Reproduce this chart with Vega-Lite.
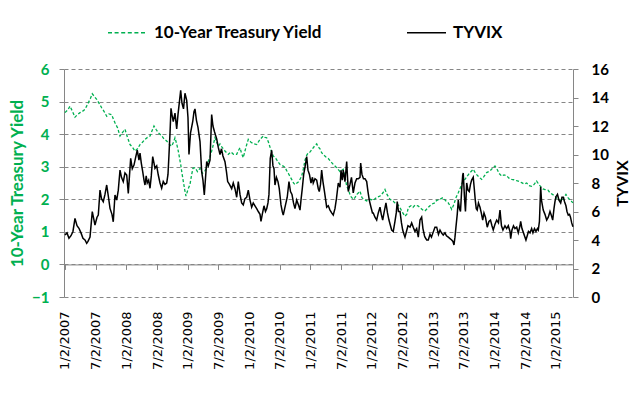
{
"$schema": "https://vega.github.io/schema/vega-lite/v6.json",
"width": 509, "height": 228,
"autosize": "none",
"padding": {"left": 64, "top": 69, "right": 69, "bottom": 104},
"background": "white",
"config": {"view": {"stroke": null}, "axis": {"labelFont": "Lato", "titleFont": "Lato"}},
"datasets": {
"yield": [
{"year":2007.000,"yield":4.66},{"year":2007.049,"yield":4.75},{"year":2007.082,"yield":4.86},{"year":2007.122,"yield":4.70},{"year":2007.163,"yield":4.52},{"year":2007.204,"yield":4.60},{"year":2007.245,"yield":4.66},{"year":2007.285,"yield":4.70},{"year":2007.326,"yield":4.76},{"year":2007.380,"yield":4.96},{"year":2007.416,"yield":5.10},{"year":2007.445,"yield":5.24},{"year":2007.481,"yield":5.15},{"year":2007.517,"yield":5.07},{"year":2007.554,"yield":4.95},{"year":2007.598,"yield":4.81},{"year":2007.636,"yield":4.70},{"year":2007.680,"yield":4.55},{"year":2007.717,"yield":4.62},{"year":2007.761,"yield":4.60},{"year":2007.791,"yield":4.45},{"year":2007.815,"yield":4.35},{"year":2007.856,"yield":4.20},{"year":2007.897,"yield":3.94},{"year":2007.937,"yield":4.05},{"year":2007.978,"yield":4.15},{"year":2008.019,"yield":3.90},{"year":2008.060,"yield":3.68},{"year":2008.100,"yield":3.60},{"year":2008.141,"yield":3.48},{"year":2008.182,"yield":3.55},{"year":2008.223,"yield":3.68},{"year":2008.263,"yield":3.75},{"year":2008.304,"yield":3.84},{"year":2008.345,"yield":3.90},{"year":2008.386,"yield":3.94},{"year":2008.418,"yield":4.10},{"year":2008.451,"yield":4.25},{"year":2008.483,"yield":4.15},{"year":2008.521,"yield":4.04},{"year":2008.576,"yield":3.95},{"year":2008.614,"yield":3.85},{"year":2008.658,"yield":3.79},{"year":2008.695,"yield":3.70},{"year":2008.739,"yield":3.63},{"year":2008.769,"yield":3.75},{"year":2008.793,"yield":3.89},{"year":2008.821,"yield":3.70},{"year":2008.847,"yield":3.48},{"year":2008.886,"yield":3.07},{"year":2008.907,"yield":2.80},{"year":2008.928,"yield":2.56},{"year":2008.951,"yield":2.30},{"year":2008.972,"yield":2.10},{"year":2009.005,"yield":2.30},{"year":2009.038,"yield":2.46},{"year":2009.065,"yield":2.76},{"year":2009.086,"yield":2.95},{"year":2009.119,"yield":2.97},{"year":2009.160,"yield":2.85},{"year":2009.201,"yield":2.95},{"year":2009.241,"yield":2.80},{"year":2009.282,"yield":2.87},{"year":2009.310,"yield":3.00},{"year":2009.336,"yield":3.17},{"year":2009.364,"yield":3.30},{"year":2009.391,"yield":3.48},{"year":2009.421,"yield":3.70},{"year":2009.445,"yield":3.89},{"year":2009.473,"yield":3.75},{"year":2009.499,"yield":3.63},{"year":2009.527,"yield":3.70},{"year":2009.559,"yield":3.60},{"year":2009.608,"yield":3.48},{"year":2009.662,"yield":3.38},{"year":2009.706,"yield":3.45},{"year":2009.747,"yield":3.38},{"year":2009.799,"yield":3.38},{"year":2009.828,"yield":3.50},{"year":2009.853,"yield":3.58},{"year":2009.880,"yield":3.40},{"year":2009.906,"yield":3.28},{"year":2009.950,"yield":3.60},{"year":2009.988,"yield":3.84},{"year":2010.032,"yield":3.75},{"year":2010.081,"yield":3.70},{"year":2010.125,"yield":3.68},{"year":2010.179,"yield":3.84},{"year":2010.232,"yield":3.94},{"year":2010.260,"yield":3.90},{"year":2010.288,"yield":3.89},{"year":2010.317,"yield":3.75},{"year":2010.342,"yield":3.60},{"year":2010.369,"yield":3.45},{"year":2010.395,"yield":3.33},{"year":2010.439,"yield":3.25},{"year":2010.472,"yield":3.15},{"year":2010.505,"yield":3.07},{"year":2010.558,"yield":3.02},{"year":2010.586,"yield":2.98},{"year":2010.614,"yield":2.88},{"year":2010.640,"yield":2.80},{"year":2010.668,"yield":2.70},{"year":2010.695,"yield":2.61},{"year":2010.725,"yield":2.50},{"year":2010.749,"yield":2.45},{"year":2010.782,"yield":2.50},{"year":2010.814,"yield":2.55},{"year":2010.858,"yield":2.71},{"year":2010.888,"yield":2.95},{"year":2010.912,"yield":3.20},{"year":2010.940,"yield":3.35},{"year":2010.966,"yield":3.43},{"year":2010.994,"yield":3.45},{"year":2011.034,"yield":3.55},{"year":2011.075,"yield":3.65},{"year":2011.103,"yield":3.70},{"year":2011.132,"yield":3.60},{"year":2011.157,"yield":3.55},{"year":2011.184,"yield":3.43},{"year":2011.222,"yield":3.35},{"year":2011.254,"yield":3.30},{"year":2011.292,"yield":3.25},{"year":2011.336,"yield":3.15},{"year":2011.373,"yield":3.07},{"year":2011.429,"yield":2.97},{"year":2011.483,"yield":2.85},{"year":2011.536,"yield":2.92},{"year":2011.564,"yield":2.70},{"year":2011.592,"yield":2.40},{"year":2011.618,"yield":2.30},{"year":2011.654,"yield":2.10},{"year":2011.699,"yield":2.00},{"year":2011.727,"yield":2.05},{"year":2011.760,"yield":2.15},{"year":2011.809,"yield":2.25},{"year":2011.841,"yield":2.05},{"year":2011.874,"yield":2.00},{"year":2011.918,"yield":1.95},{"year":2011.972,"yield":2.00},{"year":2012.025,"yield":1.97},{"year":2012.077,"yield":2.05},{"year":2012.135,"yield":2.10},{"year":2012.183,"yield":2.20},{"year":2012.216,"yield":2.30},{"year":2012.249,"yield":2.15},{"year":2012.298,"yield":2.00},{"year":2012.351,"yield":1.94},{"year":2012.379,"yield":1.89},{"year":2012.420,"yield":1.85},{"year":2012.461,"yield":1.74},{"year":2012.501,"yield":1.60},{"year":2012.542,"yield":1.48},{"year":2012.575,"yield":1.55},{"year":2012.596,"yield":1.75},{"year":2012.640,"yield":1.80},{"year":2012.672,"yield":1.75},{"year":2012.705,"yield":1.82},{"year":2012.754,"yield":1.80},{"year":2012.803,"yield":1.72},{"year":2012.840,"yield":1.66},{"year":2012.868,"yield":1.64},{"year":2012.922,"yield":1.75},{"year":2012.977,"yield":1.85},{"year":2013.031,"yield":1.89},{"year":2013.059,"yield":1.97},{"year":2013.113,"yield":2.00},{"year":2013.161,"yield":2.05},{"year":2013.210,"yield":1.95},{"year":2013.248,"yield":1.89},{"year":2013.276,"yield":1.80},{"year":2013.303,"yield":1.69},{"year":2013.341,"yield":1.85},{"year":2013.373,"yield":2.05},{"year":2013.411,"yield":2.20},{"year":2013.455,"yield":2.40},{"year":2013.487,"yield":2.55},{"year":2013.520,"yield":2.61},{"year":2013.561,"yield":2.72},{"year":2013.602,"yield":2.82},{"year":2013.655,"yield":2.92},{"year":2013.699,"yield":2.78},{"year":2013.740,"yield":2.70},{"year":2013.792,"yield":2.61},{"year":2013.830,"yield":2.70},{"year":2013.874,"yield":2.82},{"year":2013.928,"yield":2.87},{"year":2013.968,"yield":2.95},{"year":2014.009,"yield":3.02},{"year":2014.050,"yield":2.90},{"year":2014.074,"yield":2.80},{"year":2014.118,"yield":2.71},{"year":2014.156,"yield":2.75},{"year":2014.200,"yield":2.72},{"year":2014.237,"yield":2.65},{"year":2014.281,"yield":2.61},{"year":2014.319,"yield":2.60},{"year":2014.363,"yield":2.57},{"year":2014.400,"yield":2.55},{"year":2014.444,"yield":2.51},{"year":2014.482,"yield":2.47},{"year":2014.526,"yield":2.50},{"year":2014.563,"yield":2.42},{"year":2014.607,"yield":2.40},{"year":2014.645,"yield":2.45},{"year":2014.688,"yield":2.56},{"year":2014.726,"yield":2.45},{"year":2014.759,"yield":2.38},{"year":2014.791,"yield":2.32},{"year":2014.824,"yield":2.30},{"year":2014.873,"yield":2.28},{"year":2014.906,"yield":2.20},{"year":2014.946,"yield":2.15},{"year":2014.987,"yield":2.10},{"year":2015.028,"yield":2.00},{"year":2015.069,"yield":1.98},{"year":2015.096,"yield":1.94},{"year":2015.134,"yield":2.05},{"year":2015.166,"yield":2.15},{"year":2015.199,"yield":2.05},{"year":2015.232,"yield":1.98},{"year":2015.280,"yield":1.89}
],
"tyvix": [
{"year":2007.000,"tyvix":4.35},{"year":2007.033,"tyvix":4.50},{"year":2007.065,"tyvix":4.12},{"year":2007.098,"tyvix":4.30},{"year":2007.130,"tyvix":4.60},{"year":2007.163,"tyvix":5.52},{"year":2007.196,"tyvix":5.00},{"year":2007.228,"tyvix":4.82},{"year":2007.261,"tyvix":4.50},{"year":2007.293,"tyvix":4.12},{"year":2007.326,"tyvix":4.00},{"year":2007.354,"tyvix":3.77},{"year":2007.375,"tyvix":3.90},{"year":2007.408,"tyvix":4.20},{"year":2007.445,"tyvix":5.99},{"year":2007.473,"tyvix":5.40},{"year":2007.489,"tyvix":5.05},{"year":2007.522,"tyvix":5.60},{"year":2007.543,"tyvix":5.75},{"year":2007.571,"tyvix":7.50},{"year":2007.595,"tyvix":6.90},{"year":2007.624,"tyvix":6.69},{"year":2007.652,"tyvix":7.20},{"year":2007.680,"tyvix":7.86},{"year":2007.709,"tyvix":7.00},{"year":2007.734,"tyvix":6.22},{"year":2007.766,"tyvix":5.80},{"year":2007.787,"tyvix":5.28},{"year":2007.815,"tyvix":7.16},{"year":2007.843,"tyvix":6.80},{"year":2007.869,"tyvix":7.50},{"year":2007.897,"tyvix":8.91},{"year":2007.921,"tyvix":8.40},{"year":2007.950,"tyvix":8.09},{"year":2007.978,"tyvix":8.70},{"year":2008.006,"tyvix":8.56},{"year":2008.032,"tyvix":7.27},{"year":2008.051,"tyvix":8.50},{"year":2008.071,"tyvix":9.73},{"year":2008.097,"tyvix":9.00},{"year":2008.125,"tyvix":9.26},{"year":2008.152,"tyvix":9.80},{"year":2008.178,"tyvix":10.30},{"year":2008.206,"tyvix":9.60},{"year":2008.223,"tyvix":10.10},{"year":2008.244,"tyvix":9.40},{"year":2008.267,"tyvix":8.80},{"year":2008.288,"tyvix":8.20},{"year":2008.304,"tyvix":7.86},{"year":2008.324,"tyvix":8.50},{"year":2008.341,"tyvix":8.00},{"year":2008.364,"tyvix":8.20},{"year":2008.386,"tyvix":7.63},{"year":2008.407,"tyvix":8.50},{"year":2008.430,"tyvix":9.85},{"year":2008.451,"tyvix":9.40},{"year":2008.467,"tyvix":9.03},{"year":2008.495,"tyvix":9.20},{"year":2008.521,"tyvix":8.56},{"year":2008.549,"tyvix":8.00},{"year":2008.576,"tyvix":7.63},{"year":2008.602,"tyvix":8.10},{"year":2008.630,"tyvix":7.90},{"year":2008.658,"tyvix":8.00},{"year":2008.679,"tyvix":8.60},{"year":2008.695,"tyvix":9.96},{"year":2008.712,"tyvix":11.50},{"year":2008.728,"tyvix":13.24},{"year":2008.744,"tyvix":12.80},{"year":2008.765,"tyvix":12.30},{"year":2008.793,"tyvix":12.90},{"year":2008.821,"tyvix":11.80},{"year":2008.842,"tyvix":12.80},{"year":2008.863,"tyvix":13.60},{"year":2008.886,"tyvix":14.50},{"year":2008.907,"tyvix":13.60},{"year":2008.932,"tyvix":13.20},{"year":2008.956,"tyvix":14.30},{"year":2008.984,"tyvix":13.80},{"year":2009.005,"tyvix":12.60},{"year":2009.021,"tyvix":10.00},{"year":2009.046,"tyvix":11.50},{"year":2009.082,"tyvix":12.30},{"year":2009.103,"tyvix":13.00},{"year":2009.119,"tyvix":13.20},{"year":2009.143,"tyvix":12.40},{"year":2009.168,"tyvix":11.90},{"year":2009.201,"tyvix":10.90},{"year":2009.228,"tyvix":8.80},{"year":2009.249,"tyvix":8.20},{"year":2009.271,"tyvix":7.16},{"year":2009.290,"tyvix":8.30},{"year":2009.310,"tyvix":9.50},{"year":2009.336,"tyvix":9.20},{"year":2009.364,"tyvix":9.60},{"year":2009.391,"tyvix":12.80},{"year":2009.412,"tyvix":12.00},{"year":2009.437,"tyvix":11.60},{"year":2009.473,"tyvix":11.10},{"year":2009.499,"tyvix":10.50},{"year":2009.527,"tyvix":10.00},{"year":2009.551,"tyvix":10.40},{"year":2009.575,"tyvix":9.90},{"year":2009.608,"tyvix":9.50},{"year":2009.632,"tyvix":8.80},{"year":2009.652,"tyvix":8.10},{"year":2009.681,"tyvix":7.90},{"year":2009.717,"tyvix":7.60},{"year":2009.743,"tyvix":8.00},{"year":2009.771,"tyvix":7.60},{"year":2009.799,"tyvix":7.00},{"year":2009.825,"tyvix":8.10},{"year":2009.853,"tyvix":7.20},{"year":2009.880,"tyvix":6.60},{"year":2009.906,"tyvix":6.46},{"year":2009.934,"tyvix":6.90},{"year":2009.962,"tyvix":7.00},{"year":2009.988,"tyvix":7.50},{"year":2010.016,"tyvix":6.80},{"year":2010.043,"tyvix":6.30},{"year":2010.069,"tyvix":6.60},{"year":2010.097,"tyvix":6.40},{"year":2010.125,"tyvix":6.20},{"year":2010.151,"tyvix":6.00},{"year":2010.179,"tyvix":5.80},{"year":2010.195,"tyvix":5.30},{"year":2010.216,"tyvix":5.80},{"year":2010.244,"tyvix":6.40},{"year":2010.268,"tyvix":6.00},{"year":2010.288,"tyvix":6.20},{"year":2010.309,"tyvix":6.60},{"year":2010.325,"tyvix":7.20},{"year":2010.346,"tyvix":9.73},{"year":2010.369,"tyvix":10.30},{"year":2010.390,"tyvix":9.20},{"year":2010.407,"tyvix":9.00},{"year":2010.423,"tyvix":7.86},{"year":2010.447,"tyvix":8.40},{"year":2010.472,"tyvix":8.10},{"year":2010.493,"tyvix":7.60},{"year":2010.521,"tyvix":6.46},{"year":2010.542,"tyvix":6.00},{"year":2010.558,"tyvix":5.75},{"year":2010.581,"tyvix":6.20},{"year":2010.602,"tyvix":6.60},{"year":2010.623,"tyvix":7.00},{"year":2010.651,"tyvix":8.10},{"year":2010.676,"tyvix":7.40},{"year":2010.700,"tyvix":7.20},{"year":2010.725,"tyvix":6.60},{"year":2010.749,"tyvix":6.20},{"year":2010.777,"tyvix":6.80},{"year":2010.803,"tyvix":6.50},{"year":2010.831,"tyvix":6.10},{"year":2010.847,"tyvix":6.80},{"year":2010.868,"tyvix":7.60},{"year":2010.891,"tyvix":8.60},{"year":2010.912,"tyvix":9.10},{"year":2010.940,"tyvix":9.85},{"year":2010.961,"tyvix":8.90},{"year":2010.985,"tyvix":8.60},{"year":2011.010,"tyvix":8.00},{"year":2011.034,"tyvix":8.40},{"year":2011.047,"tyvix":8.00},{"year":2011.075,"tyvix":8.30},{"year":2011.103,"tyvix":8.20},{"year":2011.129,"tyvix":7.60},{"year":2011.145,"tyvix":7.40},{"year":2011.165,"tyvix":7.90},{"year":2011.184,"tyvix":8.90},{"year":2011.205,"tyvix":8.10},{"year":2011.230,"tyvix":7.40},{"year":2011.266,"tyvix":6.30},{"year":2011.292,"tyvix":6.40},{"year":2011.320,"tyvix":6.10},{"year":2011.347,"tyvix":5.90},{"year":2011.373,"tyvix":5.75},{"year":2011.401,"tyvix":6.20},{"year":2011.425,"tyvix":6.90},{"year":2011.455,"tyvix":8.00},{"year":2011.483,"tyvix":7.70},{"year":2011.499,"tyvix":8.90},{"year":2011.520,"tyvix":8.20},{"year":2011.536,"tyvix":8.90},{"year":2011.564,"tyvix":8.10},{"year":2011.592,"tyvix":9.50},{"year":2011.618,"tyvix":7.40},{"year":2011.646,"tyvix":7.90},{"year":2011.670,"tyvix":8.40},{"year":2011.699,"tyvix":7.30},{"year":2011.727,"tyvix":8.00},{"year":2011.755,"tyvix":8.30},{"year":2011.781,"tyvix":8.30},{"year":2011.809,"tyvix":8.40},{"year":2011.820,"tyvix":9.40},{"year":2011.841,"tyvix":8.60},{"year":2011.866,"tyvix":8.30},{"year":2011.890,"tyvix":8.30},{"year":2011.918,"tyvix":8.10},{"year":2011.939,"tyvix":7.40},{"year":2011.960,"tyvix":6.80},{"year":2011.988,"tyvix":6.30},{"year":2012.012,"tyvix":5.90},{"year":2012.025,"tyvix":5.90},{"year":2012.053,"tyvix":5.60},{"year":2012.081,"tyvix":5.40},{"year":2012.107,"tyvix":5.90},{"year":2012.135,"tyvix":6.30},{"year":2012.156,"tyvix":5.80},{"year":2012.179,"tyvix":5.40},{"year":2012.200,"tyvix":5.90},{"year":2012.232,"tyvix":6.60},{"year":2012.257,"tyvix":5.90},{"year":2012.281,"tyvix":5.40},{"year":2012.306,"tyvix":5.00},{"year":2012.325,"tyvix":4.70},{"year":2012.351,"tyvix":4.60},{"year":2012.379,"tyvix":5.30},{"year":2012.400,"tyvix":5.90},{"year":2012.416,"tyvix":6.70},{"year":2012.436,"tyvix":6.00},{"year":2012.461,"tyvix":6.00},{"year":2012.485,"tyvix":5.20},{"year":2012.505,"tyvix":4.70},{"year":2012.526,"tyvix":4.40},{"year":2012.542,"tyvix":4.20},{"year":2012.566,"tyvix":4.60},{"year":2012.591,"tyvix":5.00},{"year":2012.624,"tyvix":4.90},{"year":2012.651,"tyvix":5.20},{"year":2012.677,"tyvix":4.90},{"year":2012.705,"tyvix":4.60},{"year":2012.733,"tyvix":4.80},{"year":2012.759,"tyvix":4.20},{"year":2012.787,"tyvix":5.40},{"year":2012.814,"tyvix":5.60},{"year":2012.835,"tyvix":4.80},{"year":2012.860,"tyvix":4.30},{"year":2012.868,"tyvix":4.20},{"year":2012.896,"tyvix":4.00},{"year":2012.922,"tyvix":4.00},{"year":2012.950,"tyvix":4.40},{"year":2012.974,"tyvix":4.20},{"year":2012.998,"tyvix":4.50},{"year":2013.031,"tyvix":4.90},{"year":2013.059,"tyvix":4.90},{"year":2013.088,"tyvix":4.40},{"year":2013.113,"tyvix":4.70},{"year":2013.137,"tyvix":4.50},{"year":2013.166,"tyvix":4.35},{"year":2013.194,"tyvix":4.50},{"year":2013.218,"tyvix":4.30},{"year":2013.248,"tyvix":4.20},{"year":2013.276,"tyvix":4.10},{"year":2013.303,"tyvix":4.00},{"year":2013.324,"tyvix":3.90},{"year":2013.341,"tyvix":3.65},{"year":2013.357,"tyvix":4.20},{"year":2013.373,"tyvix":4.90},{"year":2013.394,"tyvix":5.80},{"year":2013.411,"tyvix":6.80},{"year":2013.430,"tyvix":6.20},{"year":2013.447,"tyvix":6.00},{"year":2013.466,"tyvix":7.50},{"year":2013.483,"tyvix":8.56},{"year":2013.492,"tyvix":8.70},{"year":2013.512,"tyvix":7.00},{"year":2013.528,"tyvix":6.00},{"year":2013.548,"tyvix":8.00},{"year":2013.569,"tyvix":7.50},{"year":2013.590,"tyvix":7.40},{"year":2013.610,"tyvix":7.90},{"year":2013.629,"tyvix":8.20},{"year":2013.655,"tyvix":8.40},{"year":2013.672,"tyvix":7.60},{"year":2013.688,"tyvix":6.80},{"year":2013.704,"tyvix":6.20},{"year":2013.720,"tyvix":6.10},{"year":2013.740,"tyvix":6.60},{"year":2013.765,"tyvix":6.30},{"year":2013.786,"tyvix":5.90},{"year":2013.809,"tyvix":5.40},{"year":2013.830,"tyvix":5.90},{"year":2013.854,"tyvix":5.60},{"year":2013.883,"tyvix":4.90},{"year":2013.911,"tyvix":5.30},{"year":2013.936,"tyvix":5.40},{"year":2013.960,"tyvix":5.00},{"year":2013.981,"tyvix":4.70},{"year":2014.009,"tyvix":5.10},{"year":2014.037,"tyvix":5.40},{"year":2014.066,"tyvix":5.20},{"year":2014.091,"tyvix":6.10},{"year":2014.115,"tyvix":5.00},{"year":2014.139,"tyvix":4.70},{"year":2014.172,"tyvix":5.00},{"year":2014.200,"tyvix":4.80},{"year":2014.226,"tyvix":5.00},{"year":2014.254,"tyvix":4.60},{"year":2014.265,"tyvix":4.10},{"year":2014.286,"tyvix":4.70},{"year":2014.311,"tyvix":5.00},{"year":2014.335,"tyvix":4.80},{"year":2014.363,"tyvix":4.90},{"year":2014.389,"tyvix":4.50},{"year":2014.417,"tyvix":5.00},{"year":2014.428,"tyvix":5.30},{"year":2014.449,"tyvix":4.80},{"year":2014.474,"tyvix":4.50},{"year":2014.498,"tyvix":4.20},{"year":2014.514,"tyvix":4.00},{"year":2014.535,"tyvix":4.30},{"year":2014.555,"tyvix":4.60},{"year":2014.580,"tyvix":4.50},{"year":2014.607,"tyvix":4.80},{"year":2014.628,"tyvix":4.50},{"year":2014.653,"tyvix":4.80},{"year":2014.677,"tyvix":4.60},{"year":2014.702,"tyvix":4.80},{"year":2014.715,"tyvix":4.70},{"year":2014.734,"tyvix":5.30},{"year":2014.754,"tyvix":7.74},{"year":2014.767,"tyvix":6.80},{"year":2014.796,"tyvix":6.10},{"year":2014.824,"tyvix":5.80},{"year":2014.852,"tyvix":5.40},{"year":2014.878,"tyvix":5.60},{"year":2014.906,"tyvix":6.00},{"year":2014.930,"tyvix":5.70},{"year":2014.950,"tyvix":5.40},{"year":2014.971,"tyvix":6.20},{"year":2014.987,"tyvix":6.70},{"year":2015.003,"tyvix":7.04},{"year":2015.028,"tyvix":7.20},{"year":2015.052,"tyvix":6.80},{"year":2015.080,"tyvix":6.60},{"year":2015.101,"tyvix":7.00},{"year":2015.123,"tyvix":7.00},{"year":2015.142,"tyvix":6.70},{"year":2015.166,"tyvix":6.40},{"year":2015.183,"tyvix":6.00},{"year":2015.204,"tyvix":5.75},{"year":2015.224,"tyvix":5.80},{"year":2015.240,"tyvix":5.60},{"year":2015.260,"tyvix":5.20},{"year":2015.280,"tyvix":4.93}
]
},
"layer": [
{
"data": {"name": "yield"},
"mark": {"type": "line", "strokeDash": [3, 2], "strokeWidth": 1.3},
"encoding": {
"x": {"field": "year", "type": "quantitative",
 "scale": {"domain": [2006.984, 2015.281], "nice": false, "zero": false},
 "axis": {"orient": "bottom", "values": [2007,2007.5,2008,2008.5,2009,2009.5,2010,2010.5,2011,2011.5,2012,2012.5,2013,2013.5,2014,2014.5,2015],
  "labelExpr": "(datum.value % 1 == 0 ? '1/2/' : '7/2/') + floor(datum.value)",
  "labelAngle": 270, "labelFont": "DejaVu Sans", "labelFontSize": 13, "labelColor": "#000000",
  "labelPadding": 14, "ticks": false, "domain": false, "grid": false, "title": null,
  "labelFlush": false, "labelOverlap": false, "labelBound": false}},
"y": {"field": "yield", "type": "quantitative",
 "scale": {"domain": [-1, 6], "nice": false, "zero": false},
 "axis": {"orient": "left", "values": [-1,0,1,2,3,4,5,6], "title": "10-Year Treasury Yield",
  "titleColor": "#00B050", "titleFontSize": 17, "titleFontWeight": "bold", "titlePadding": 5,
  "labelColor": "#00B050", "labelFontSize": 15, "labelFontWeight": "bold", "labelPadding": 10,
  "tickSize": 5, "tickColor": "#868686", "domainColor": "#868686",
  "grid": true, "gridColor": "#868686", "gridDash": [4, 3], "labelFlush": false}},
"color": {"datum": "10-Year Treasury Yield", "type": "nominal",
 "scale": {"domain": ["10-Year Treasury Yield", "TYVIX"], "range": ["#00B050", "#000000"]},
 "legend": {"orient": "none", "legendX": 43, "legendY": -57, "direction": "horizontal", "title": null,
  "symbolType": "stroke", "symbolSize": 1521, "symbolStrokeWidth": 1.5,
  "labelFont": "Lato", "labelFontSize": 17, "labelFontWeight": "bold", "labelColor": "#000000",
  "labelOffset": 6, "columnPadding": 80, "padding": 0, "labelLimit": 400,
  "encode": {"symbols": {"update": {"strokeDash": {"signal": "datum.value == '10-Year Treasury Yield' ? [4,2.6] : [1,0]"}}}}}}
}
},
{
"data": {"name": "tyvix"},
"mark": {"type": "line", "strokeWidth": 1.5},
"encoding": {
"x": {"field": "year", "type": "quantitative",
 "axis": {"orient": "bottom", "offset": -32.571, "values": [2007,2007.5,2008,2008.5,2009,2009.5,2010,2010.5,2011,2011.5,2012,2012.5,2013,2013.5,2014,2014.5,2015],
  "labels": false, "ticks": true, "tickSize": 5, "tickColor": "#868686", "domain": true, "domainColor": "#868686", "grid": false, "title": null}},
"y": {"field": "tyvix", "type": "quantitative",
 "scale": {"domain": [0, 16], "nice": false, "zero": false},
 "axis": {"orient": "right", "values": [0,2,4,6,8,10,12,14,16], "title": "TYVIX", "titleAngle": 270,
  "titleColor": "#000000", "titleFontSize": 16, "titleFontWeight": "bold", "titlePadding": 22,
  "labelColor": "#000000", "labelFontSize": 15, "labelFontWeight": "bold", "labelPadding": 13,
  "tickSize": 5, "tickColor": "#868686", "domainColor": "#868686", "grid": false, "labelFlush": false}},
"color": {"datum": "TYVIX", "type": "nominal"}
}
}
],
"resolve": {"scale": {"y": "independent"}, "axis": {"x": "independent"}}
}
